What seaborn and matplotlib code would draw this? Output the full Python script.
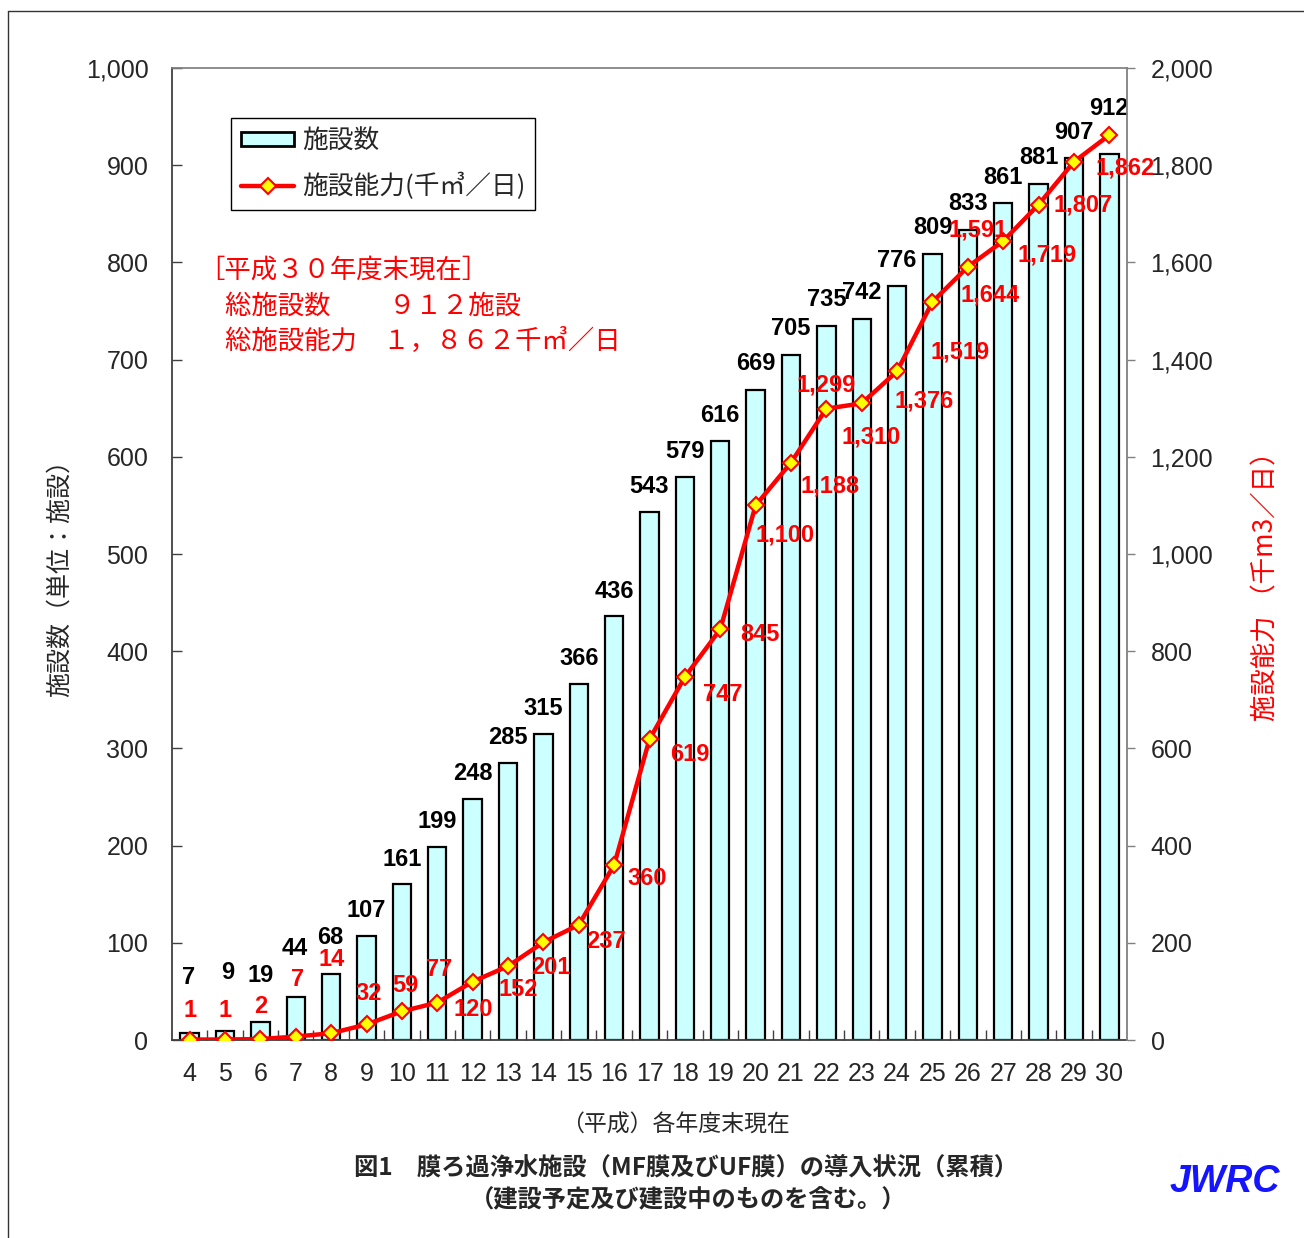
import numpy as np
import seaborn as sns
import matplotlib.pyplot as plt
from matplotlib.patches import Patch
from matplotlib.lines import Line2D
from matplotlib.ticker import FuncFormatter, FixedLocator

# data (平成 年度末, cumulative)
years = ['4', '5', '6', '7', '8', '9', '10', '11', '12', '13', '14', '15', '16', '17',
         '18', '19', '20', '21', '22', '23', '24', '25', '26', '27', '28', '29', '30']
facilities = [7, 9, 19, 44, 68, 107, 161, 199, 248, 285, 315, 366, 436, 543,
              579, 616, 669, 705, 735, 742, 776, 809, 833, 861, 881, 907, 912]
capacity = [1, 1, 2, 7, 14, 32, 59, 77, 120, 152, 201, 237, 360, 619,
            747, 845, 1100, 1188, 1299, 1310, 1376, 1519, 1591, 1644, 1719, 1807, 1862]

# label offsets in pixels (dx, dy) as placed in the original
count_off = [(-1, 58), (3, 61), (0, 49), (-1, 51), (-1, 39), (0, 28), (0, 27), (0, 28), (0, 28),
             (0, 28), (0, 28), (0, 28), (0, 27), (0, 28), (0, 28), (0, 28), (0, 29), (0, 29),
             (0, 29), (0, 29), (0, 28), (0, 29), (0, 29), (0, 28), (0, 29), (0, 28), (0, 48)]
cap_off = [(0, 32), (0, 32), (0, 35), (2, 60), (0, 76), (2, 33), (3, 28), (2, 36), (1, -25),
           (10, -21), (7, -23), (27, -14), (33, -11), (40, -13), (38, -15), (40, -3), (29, -27),
           (39, -21), (0, 26), (9, -31), (27, -27), (28, -48), (10, 39), (-13, -51), (8, -48),
           (9, -41), (16, -30)]

W, H = 1304, 1238
sns.set_theme(style='ticks')
plt.rcParams['font.family'] = ['Liberation Sans', 'Noto Sans CJK JP', 'DejaVu Sans']
JP = ['Noto Sans CJK JP', 'DejaVu Sans']
BAR = '#CCFFFF'
RED = '#FF0000'

fig = plt.figure(figsize=(W / 100, H / 100), dpi=100)
ax = fig.add_axes([172 / W, 1 - 1040 / H, 955 / W, 972 / H])

sns.barplot(x=years, y=facilities, order=years, color=BAR, saturation=1,
            edgecolor='black', linewidth=1.6, width=0.52, ax=ax)

ax2 = ax.twinx()
sns.lineplot(x=np.arange(len(years)), y=capacity, ax=ax2, color=RED, lw=3.2,
             marker='D', markersize=8.5, markerfacecolor='#FFFF00',
             markeredgecolor=RED, markeredgewidth=1.5)

ax.set_xlim(-0.5, len(years) - 0.5)
ax.set_ylim(0, 1000)
ax2.set_ylim(0, 2000)
ax.set_yticks(range(0, 1001, 100))
ax2.set_yticks(range(0, 2001, 200))
fmt = FuncFormatter(lambda v, p: f'{int(v):,}')
ax.yaxis.set_major_formatter(fmt)
ax2.yaxis.set_major_formatter(fmt)
ax.set_xticks(range(len(years)))
ax.set_xticklabels(years)
ax.xaxis.set_minor_locator(FixedLocator(np.arange(0.5, len(years) - 1, 1)))
ax.set_xlabel('')
ax.set_ylabel('')
ax2.set_ylabel('')

ax.tick_params(axis='y', which='major', direction='in', length=7, width=1,
               pad=17, labelsize=18, color='#404040')
ax.tick_params(axis='x', which='major', length=0, pad=16, labelsize=18)
ax.tick_params(axis='x', which='minor', direction='in', length=7, width=1,
               color='#404040', bottom=True)
ax2.tick_params(axis='y', direction='out', length=6, width=1, pad=11,
                labelsize=18, color='#808080')

for s in ['left', 'bottom']:
    ax.spines[s].set_color('#404040')
    ax.spines[s].set_linewidth(1.3)
ax.spines['top'].set_color('#808080')
ax.spines['right'].set_visible(False)
for s in ['left', 'bottom', 'top']:
    ax2.spines[s].set_visible(False)
ax2.spines['right'].set_color('#808080')
ax2.spines['right'].set_linewidth(1.3)

# value labels
for i, v in enumerate(facilities):
    dx, dy = count_off[i]
    ax.annotate(f'{v:,}', xy=(i, v), xytext=(dx, dy), textcoords='offset pixels',
                ha='center', va='center_baseline', fontsize=17, fontweight='bold',
                color='black')
for i, v in enumerate(capacity):
    dx, dy = cap_off[i]
    ax2.annotate(f'{v:,}', xy=(i, v), xytext=(dx, dy), textcoords='offset pixels',
                 ha='center', va='center_baseline', fontsize=17, fontweight='bold',
                 color=RED, zorder=5)

# legend
handles = [Patch(facecolor=BAR, edgecolor='black', linewidth=2),
           Line2D([], [], color=RED, lw=3.2, marker='D', markersize=8.5,
                  markerfacecolor='#FFFF00', markeredgecolor=RED, markeredgewidth=1.5)]
leg = ax2.legend(handles, ['施設数', '施設能力(千㎥／日)'], loc='upper left',
                 bbox_to_anchor=((231 - 172) / 955, (1040 - 118) / 972),
                 borderaxespad=0, fancybox=False, framealpha=1, edgecolor='black',
                 prop={'family': JP, 'size': 18.5}, handlelength=2.05, handleheight=0.45,
                 handletextpad=0.3, labelspacing=0.72, borderpad=0.4)
leg.get_frame().set_linewidth(1)

# note in red
def fx(x):
    return x / W


def fy(y):
    return 1 - y / H


fig.text(fx(198), fy(270), '［平成３０年度末現在］', color=RED, fontsize=19,
         family=JP, ha='left', va='center')
fig.text(fx(225), fy(306), '総施設数　　 ９１２施設', color=RED, fontsize=19,
         family=JP, ha='left', va='center')
fig.text(fx(225), fy(341), '総施設能力　１，８６２千㎥／日', color=RED, fontsize=19,
         family=JP, ha='left', va='center')

# axis titles
fig.text(fx(60), fy(572), '施設数（単位：施設）', rotation=90, fontsize=18,
         family=JP, ha='center', va='center')
fig.text(fx(1266), fy(580), '施設能力 （千m3／日）', rotation=90, fontsize=19,
         family=JP, color=RED, ha='center', va='center')
fig.text(fx(675), fy(1125), '（平成）各年度末現在', fontsize=16.5, family=JP,
         ha='center', va='center')
fig.text(fx(686), fy(1168), '図1　膜ろ過浄水施設（MF膜及びUF膜）の導入状況（累積）',
         fontsize=17.5, fontweight='bold', family=JP, ha='center', va='center')
fig.text(fx(688), fy(1200), '（建設予定及び建設中のものを含む。）',
         fontsize=17.5, fontweight='bold', family=JP, ha='center', va='center')
fig.text(fx(1225), fy(1182), 'JWRC', fontsize=27, fontweight='bold', fontstyle='italic',
         color='#1414FF', ha='center', va='center')

# outer frame (top and left edges)
fig.add_artist(Line2D([fx(8), 1], [fy(11), fy(11)], color='#333333', lw=1))
fig.add_artist(Line2D([fx(8), fx(8)], [0, fy(11)], color='#333333', lw=1))

plt.savefig('out.png', dpi=100)
plt.close()
